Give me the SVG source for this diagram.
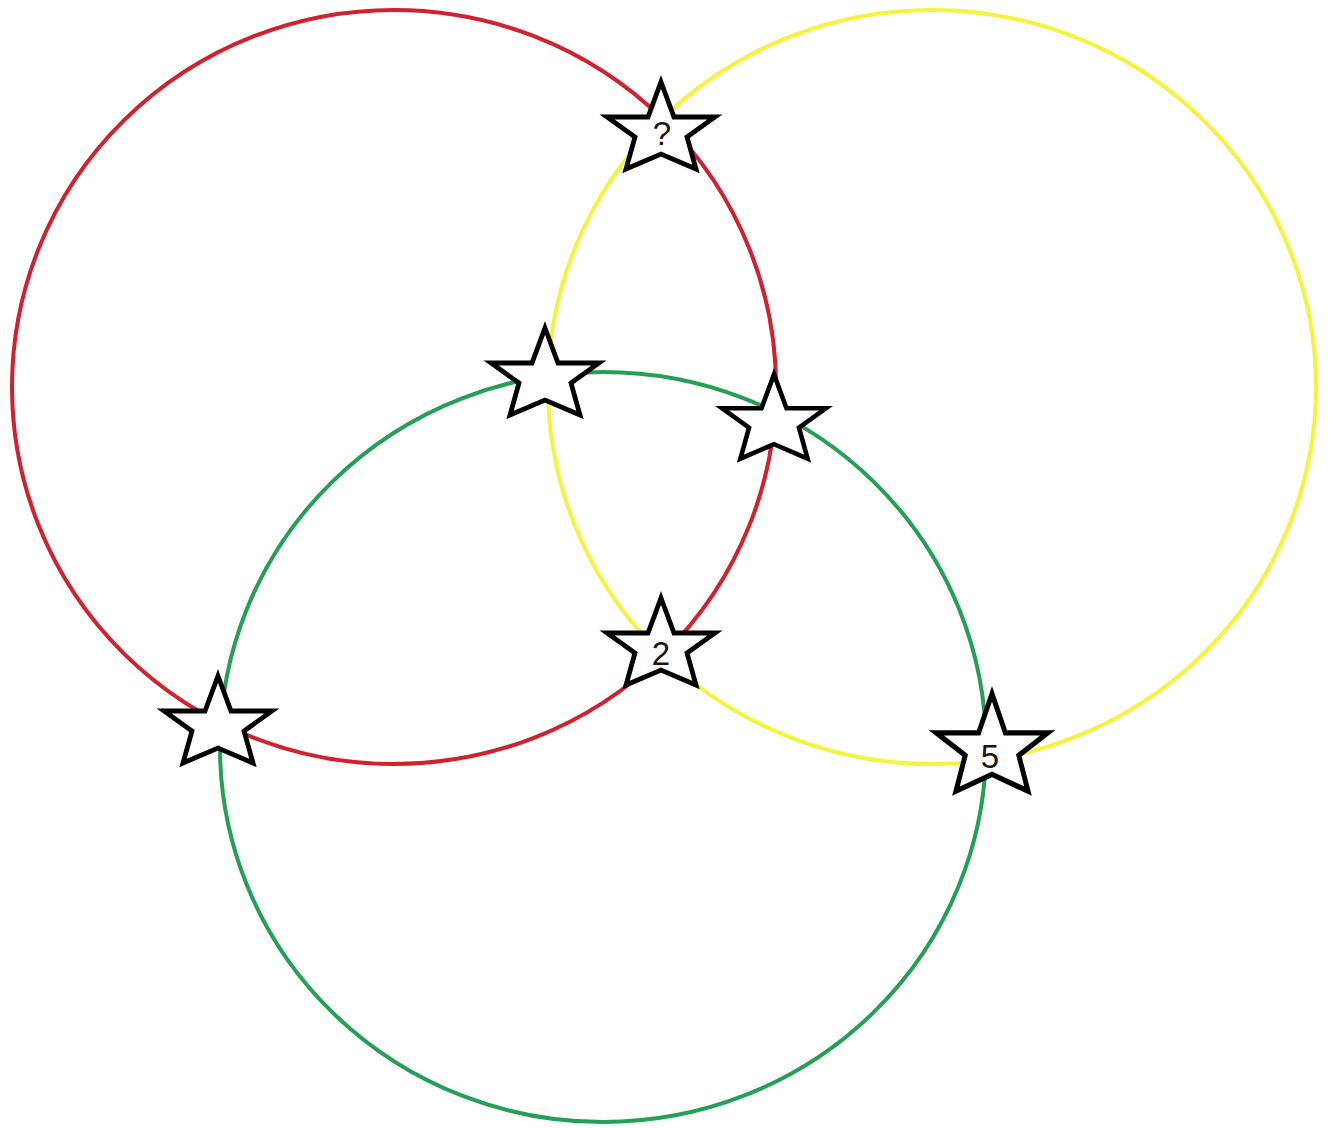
<svg xmlns="http://www.w3.org/2000/svg" xmlns:xlink="http://www.w3.org/1999/xlink" width="1333" height="1128" viewBox="0 0 1333 1128">
<style>
.ring{fill:none;stroke-width:4}
.red{stroke:#d2202f}
.yellow{stroke:#f4f43c}
.green{stroke:#23a055}
.star{fill:#ffffff;stroke:#000000;stroke-width:4.8;stroke-linejoin:miter;stroke-miterlimit:10}
.lbl{font-family:"Liberation Sans",Arial,sans-serif;font-size:33px;fill:#151515;text-anchor:middle;dominant-baseline:central}
</style>
<defs>
<polygon id="starShape" class="star" points="0,-44 13,-9 54,-9 26,11 35,43 0,28 -35,43 -26,11 -54,-9 -13,-9"/>
</defs>
<rect width="1333" height="1128" fill="#ffffff"/>
<g id="circles">
<ellipse id="red-circle" class="ring red" cx="394" cy="387" rx="382" ry="377"/>
<ellipse id="yellow-circle" class="ring yellow" cx="932" cy="387" rx="384" ry="377"/>
<ellipse id="green-circle" class="ring green" cx="603" cy="747" rx="383" ry="375"/>
</g>
<g id="star-top">
<use xlink:href="#starShape" href="#starShape" transform="translate(661,126)"/>
<text class="lbl" x="662" y="133">?</text>
</g>
<g id="star-upper-left">
<use xlink:href="#starShape" href="#starShape" transform="translate(545,372)"/>
</g>
<g id="star-upper-right">
<use xlink:href="#starShape" href="#starShape" transform="translate(774,417) scale(0.96,0.97)"/>
</g>
<g id="star-center">
<use xlink:href="#starShape" href="#starShape" transform="translate(661,642)"/>
<text class="lbl" x="661" y="653">2</text>
</g>
<g id="star-left">
<use xlink:href="#starShape" href="#starShape" transform="translate(218,720)"/>
</g>
<g id="star-right">
<use xlink:href="#starShape" href="#starShape" transform="translate(992,743) scale(1.03,1.12)"/>
<text class="lbl" x="990" y="756">5</text>
</g>
</svg>
